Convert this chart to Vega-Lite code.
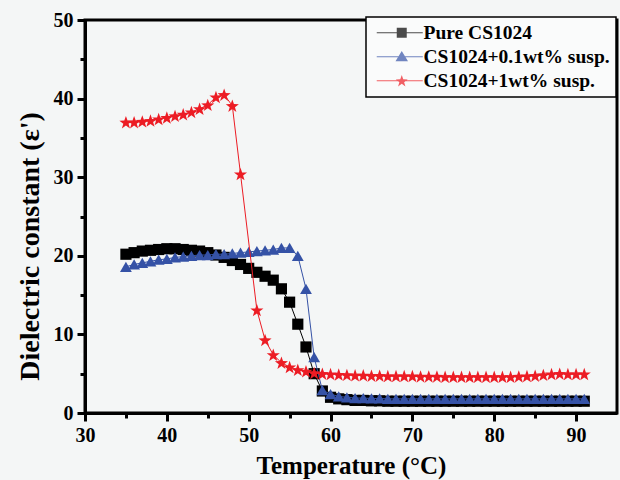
{
  "$schema": "https://vega.github.io/schema/vega-lite/v6.json",
  "width": 532,
  "height": 393,
  "autosize": {"type": "none"},
  "padding": {"left": 85, "top": 20, "right": 3, "bottom": 67},
  "background": "#f4f6f6",
  "config": {
    "view": {"stroke": "black", "strokeWidth": 3, "fill": "#f4f6f6"},
    "axis": {
      "labelFont": "Liberation Serif", "labelFontWeight": "bold", "labelFontSize": 20, "labelColor": "black",
      "titleFont": "Liberation Serif", "titleFontWeight": "bold", "titleFontSize": 25, "titleColor": "black",
      "domainColor": "black", "domainWidth": 3, "tickColor": "black", "tickWidth": 3, "grid": false,
      "labelFlush": false, "labelOverlap": false
    },
    "legend": {
      "title": null, "orient": "none", "legendX": 281, "legendY": -3,
      "labelOffset": 32, "symbolSize": 100, "symbolStrokeWidth": 0,
      "strokeColor": "black", "strokeWidth": 1.5, "fillColor": "#fafbfb",
      "padding": 6, "rowPadding": 3,
      "labelFont": "Liberation Serif", "labelFontWeight": "bold", "labelFontSize": 19.5, "labelColor": "black", "labelLimit": 400
    }
  },
  "data": {"values": [
    {"s": "Pure CS1024", "t": 35, "e": 20.2}, {"s": "Pure CS1024", "t": 36, "e": 20.4}, {"s": "Pure CS1024", "t": 37, "e": 20.6}, {"s": "Pure CS1024", "t": 38, "e": 20.7},
    {"s": "Pure CS1024", "t": 39, "e": 20.8}, {"s": "Pure CS1024", "t": 40, "e": 20.9}, {"s": "Pure CS1024", "t": 41, "e": 20.9}, {"s": "Pure CS1024", "t": 42, "e": 20.8},
    {"s": "Pure CS1024", "t": 43, "e": 20.7}, {"s": "Pure CS1024", "t": 44, "e": 20.6}, {"s": "Pure CS1024", "t": 45, "e": 20.4}, {"s": "Pure CS1024", "t": 46, "e": 20.1},
    {"s": "Pure CS1024", "t": 47, "e": 19.8}, {"s": "Pure CS1024", "t": 48, "e": 19.4}, {"s": "Pure CS1024", "t": 49, "e": 18.9}, {"s": "Pure CS1024", "t": 50, "e": 18.4},
    {"s": "Pure CS1024", "t": 51, "e": 17.9}, {"s": "Pure CS1024", "t": 52, "e": 17.4}, {"s": "Pure CS1024", "t": 53, "e": 16.9}, {"s": "Pure CS1024", "t": 54, "e": 15.8},
    {"s": "Pure CS1024", "t": 55, "e": 14.1}, {"s": "Pure CS1024", "t": 56, "e": 11.3}, {"s": "Pure CS1024", "t": 57, "e": 8.4}, {"s": "Pure CS1024", "t": 58, "e": 5.0},
    {"s": "Pure CS1024", "t": 59, "e": 2.8}, {"s": "Pure CS1024", "t": 60, "e": 2.0}, {"s": "Pure CS1024", "t": 61, "e": 1.8}, {"s": "Pure CS1024", "t": 62, "e": 1.7},
    {"s": "Pure CS1024", "t": 63, "e": 1.6}, {"s": "Pure CS1024", "t": 64, "e": 1.6}, {"s": "Pure CS1024", "t": 65, "e": 1.55}, {"s": "Pure CS1024", "t": 66, "e": 1.55},
    {"s": "Pure CS1024", "t": 67, "e": 1.5}, {"s": "Pure CS1024", "t": 68, "e": 1.5}, {"s": "Pure CS1024", "t": 69, "e": 1.5}, {"s": "Pure CS1024", "t": 70, "e": 1.5},
    {"s": "Pure CS1024", "t": 71, "e": 1.5}, {"s": "Pure CS1024", "t": 72, "e": 1.5}, {"s": "Pure CS1024", "t": 73, "e": 1.5}, {"s": "Pure CS1024", "t": 74, "e": 1.5},
    {"s": "Pure CS1024", "t": 75, "e": 1.5}, {"s": "Pure CS1024", "t": 76, "e": 1.5}, {"s": "Pure CS1024", "t": 77, "e": 1.5}, {"s": "Pure CS1024", "t": 78, "e": 1.5},
    {"s": "Pure CS1024", "t": 79, "e": 1.5}, {"s": "Pure CS1024", "t": 80, "e": 1.5}, {"s": "Pure CS1024", "t": 81, "e": 1.5}, {"s": "Pure CS1024", "t": 82, "e": 1.5},
    {"s": "Pure CS1024", "t": 83, "e": 1.5}, {"s": "Pure CS1024", "t": 84, "e": 1.5}, {"s": "Pure CS1024", "t": 85, "e": 1.5}, {"s": "Pure CS1024", "t": 86, "e": 1.5},
    {"s": "Pure CS1024", "t": 87, "e": 1.5}, {"s": "Pure CS1024", "t": 88, "e": 1.5}, {"s": "Pure CS1024", "t": 89, "e": 1.5}, {"s": "Pure CS1024", "t": 90, "e": 1.5},
    {"s": "Pure CS1024", "t": 91, "e": 1.5},
    {"s": "CS1024+0.1wt% susp.", "t": 35, "e": 18.6}, {"s": "CS1024+0.1wt% susp.", "t": 36, "e": 18.9}, {"s": "CS1024+0.1wt% susp.", "t": 37, "e": 19.1}, {"s": "CS1024+0.1wt% susp.", "t": 38, "e": 19.3},
    {"s": "CS1024+0.1wt% susp.", "t": 39, "e": 19.5}, {"s": "CS1024+0.1wt% susp.", "t": 40, "e": 19.6}, {"s": "CS1024+0.1wt% susp.", "t": 41, "e": 19.8}, {"s": "CS1024+0.1wt% susp.", "t": 42, "e": 19.9},
    {"s": "CS1024+0.1wt% susp.", "t": 43, "e": 20.0}, {"s": "CS1024+0.1wt% susp.", "t": 44, "e": 20.1}, {"s": "CS1024+0.1wt% susp.", "t": 45, "e": 20.1}, {"s": "CS1024+0.1wt% susp.", "t": 46, "e": 20.2},
    {"s": "CS1024+0.1wt% susp.", "t": 47, "e": 20.2}, {"s": "CS1024+0.1wt% susp.", "t": 48, "e": 20.3}, {"s": "CS1024+0.1wt% susp.", "t": 49, "e": 20.4}, {"s": "CS1024+0.1wt% susp.", "t": 50, "e": 20.5},
    {"s": "CS1024+0.1wt% susp.", "t": 51, "e": 20.6}, {"s": "CS1024+0.1wt% susp.", "t": 52, "e": 20.7}, {"s": "CS1024+0.1wt% susp.", "t": 53, "e": 20.8}, {"s": "CS1024+0.1wt% susp.", "t": 54, "e": 21.0},
    {"s": "CS1024+0.1wt% susp.", "t": 55, "e": 21.0}, {"s": "CS1024+0.1wt% susp.", "t": 56, "e": 20.0}, {"s": "CS1024+0.1wt% susp.", "t": 57, "e": 15.8}, {"s": "CS1024+0.1wt% susp.", "t": 58, "e": 7.1},
    {"s": "CS1024+0.1wt% susp.", "t": 59, "e": 2.9}, {"s": "CS1024+0.1wt% susp.", "t": 60, "e": 2.4}, {"s": "CS1024+0.1wt% susp.", "t": 61, "e": 2.1}, {"s": "CS1024+0.1wt% susp.", "t": 62, "e": 2.0},
    {"s": "CS1024+0.1wt% susp.", "t": 63, "e": 1.9}, {"s": "CS1024+0.1wt% susp.", "t": 64, "e": 1.9}, {"s": "CS1024+0.1wt% susp.", "t": 65, "e": 1.85}, {"s": "CS1024+0.1wt% susp.", "t": 66, "e": 1.85},
    {"s": "CS1024+0.1wt% susp.", "t": 67, "e": 1.8}, {"s": "CS1024+0.1wt% susp.", "t": 68, "e": 1.8}, {"s": "CS1024+0.1wt% susp.", "t": 69, "e": 1.8}, {"s": "CS1024+0.1wt% susp.", "t": 70, "e": 1.8},
    {"s": "CS1024+0.1wt% susp.", "t": 71, "e": 1.8}, {"s": "CS1024+0.1wt% susp.", "t": 72, "e": 1.8}, {"s": "CS1024+0.1wt% susp.", "t": 73, "e": 1.8}, {"s": "CS1024+0.1wt% susp.", "t": 74, "e": 1.8},
    {"s": "CS1024+0.1wt% susp.", "t": 75, "e": 1.8}, {"s": "CS1024+0.1wt% susp.", "t": 76, "e": 1.8}, {"s": "CS1024+0.1wt% susp.", "t": 77, "e": 1.8}, {"s": "CS1024+0.1wt% susp.", "t": 78, "e": 1.8},
    {"s": "CS1024+0.1wt% susp.", "t": 79, "e": 1.8}, {"s": "CS1024+0.1wt% susp.", "t": 80, "e": 1.8}, {"s": "CS1024+0.1wt% susp.", "t": 81, "e": 1.8}, {"s": "CS1024+0.1wt% susp.", "t": 82, "e": 1.8},
    {"s": "CS1024+0.1wt% susp.", "t": 83, "e": 1.8}, {"s": "CS1024+0.1wt% susp.", "t": 84, "e": 1.8}, {"s": "CS1024+0.1wt% susp.", "t": 85, "e": 1.8}, {"s": "CS1024+0.1wt% susp.", "t": 86, "e": 1.8},
    {"s": "CS1024+0.1wt% susp.", "t": 87, "e": 1.8}, {"s": "CS1024+0.1wt% susp.", "t": 88, "e": 1.8}, {"s": "CS1024+0.1wt% susp.", "t": 89, "e": 1.8}, {"s": "CS1024+0.1wt% susp.", "t": 90, "e": 1.8},
    {"s": "CS1024+0.1wt% susp.", "t": 91, "e": 1.8},
    {"s": "CS1024+1wt% susp.", "t": 35, "e": 37.0}, {"s": "CS1024+1wt% susp.", "t": 36, "e": 37.0}, {"s": "CS1024+1wt% susp.", "t": 37, "e": 37.1}, {"s": "CS1024+1wt% susp.", "t": 38, "e": 37.2},
    {"s": "CS1024+1wt% susp.", "t": 39, "e": 37.4}, {"s": "CS1024+1wt% susp.", "t": 40, "e": 37.6}, {"s": "CS1024+1wt% susp.", "t": 41, "e": 37.8}, {"s": "CS1024+1wt% susp.", "t": 42, "e": 38.0},
    {"s": "CS1024+1wt% susp.", "t": 43, "e": 38.3}, {"s": "CS1024+1wt% susp.", "t": 44, "e": 38.7}, {"s": "CS1024+1wt% susp.", "t": 45, "e": 39.2}, {"s": "CS1024+1wt% susp.", "t": 46, "e": 40.2},
    {"s": "CS1024+1wt% susp.", "t": 47, "e": 40.5}, {"s": "CS1024+1wt% susp.", "t": 48, "e": 39.1}, {"s": "CS1024+1wt% susp.", "t": 49, "e": 30.4}, {"s": "CS1024+1wt% susp.", "t": 51, "e": 13.1},
    {"s": "CS1024+1wt% susp.", "t": 52, "e": 9.3}, {"s": "CS1024+1wt% susp.", "t": 53, "e": 7.4}, {"s": "CS1024+1wt% susp.", "t": 54, "e": 6.4}, {"s": "CS1024+1wt% susp.", "t": 55, "e": 5.85},
    {"s": "CS1024+1wt% susp.", "t": 56, "e": 5.5}, {"s": "CS1024+1wt% susp.", "t": 57, "e": 5.3}, {"s": "CS1024+1wt% susp.", "t": 58, "e": 5.1}, {"s": "CS1024+1wt% susp.", "t": 59, "e": 5.0},
    {"s": "CS1024+1wt% susp.", "t": 60, "e": 4.95}, {"s": "CS1024+1wt% susp.", "t": 61, "e": 4.9}, {"s": "CS1024+1wt% susp.", "t": 62, "e": 4.85}, {"s": "CS1024+1wt% susp.", "t": 63, "e": 4.8},
    {"s": "CS1024+1wt% susp.", "t": 64, "e": 4.8}, {"s": "CS1024+1wt% susp.", "t": 65, "e": 4.75}, {"s": "CS1024+1wt% susp.", "t": 66, "e": 4.75}, {"s": "CS1024+1wt% susp.", "t": 67, "e": 4.7},
    {"s": "CS1024+1wt% susp.", "t": 68, "e": 4.7}, {"s": "CS1024+1wt% susp.", "t": 69, "e": 4.7}, {"s": "CS1024+1wt% susp.", "t": 70, "e": 4.7}, {"s": "CS1024+1wt% susp.", "t": 71, "e": 4.65},
    {"s": "CS1024+1wt% susp.", "t": 72, "e": 4.65}, {"s": "CS1024+1wt% susp.", "t": 73, "e": 4.65}, {"s": "CS1024+1wt% susp.", "t": 74, "e": 4.6}, {"s": "CS1024+1wt% susp.", "t": 75, "e": 4.6},
    {"s": "CS1024+1wt% susp.", "t": 76, "e": 4.6}, {"s": "CS1024+1wt% susp.", "t": 77, "e": 4.6}, {"s": "CS1024+1wt% susp.", "t": 78, "e": 4.6}, {"s": "CS1024+1wt% susp.", "t": 79, "e": 4.6},
    {"s": "CS1024+1wt% susp.", "t": 80, "e": 4.6}, {"s": "CS1024+1wt% susp.", "t": 81, "e": 4.6}, {"s": "CS1024+1wt% susp.", "t": 82, "e": 4.6}, {"s": "CS1024+1wt% susp.", "t": 83, "e": 4.65},
    {"s": "CS1024+1wt% susp.", "t": 84, "e": 4.7}, {"s": "CS1024+1wt% susp.", "t": 85, "e": 4.75}, {"s": "CS1024+1wt% susp.", "t": 86, "e": 4.85}, {"s": "CS1024+1wt% susp.", "t": 87, "e": 4.95},
    {"s": "CS1024+1wt% susp.", "t": 88, "e": 5.0}, {"s": "CS1024+1wt% susp.", "t": 89, "e": 4.95}, {"s": "CS1024+1wt% susp.", "t": 90, "e": 4.95}, {"s": "CS1024+1wt% susp.", "t": 91, "e": 4.95}
  ]},
  "encoding": {
    "x": {
      "field": "t", "type": "quantitative",
      "scale": {"domain": [30, 95], "nice": false, "zero": false},
      "axis": {
        "title": "Temperature (°C)",
        "values": [30, 35, 40, 45, 50, 55, 60, 65, 70, 75, 80, 85, 90],
        "labelExpr": "datum.value % 10 === 0 ? datum.label : ''",
        "tickSize": {"condition": {"test": "datum.value % 10 === 0", "value": 8}, "value": 5},
        "labelPadding": 4, "titlePadding": 8
      }
    },
    "y": {
      "field": "e", "type": "quantitative",
      "scale": {"domain": [0, 50], "nice": false},
      "axis": {
        "title": "Dielectric constant (ε')",
        "titleFontSize": 28,
        "titleY": 226,
        "values": [0, 5, 10, 15, 20, 25, 30, 35, 40, 45, 50],
        "labelExpr": "datum.value % 10 === 0 ? datum.label : ''",
        "tickSize": {"condition": {"test": "datum.value % 10 === 0", "value": 8}, "value": 5},
        "labelPadding": 4, "titlePadding": 9
      }
    }
  },
  "layer": [
    {
      "transform": [{"filter": "datum.s === 'Pure CS1024'"}],
      "mark": {"type": "line", "color": "black", "strokeWidth": 1,
               "point": {"filled": true, "shape": "square", "size": 125, "color": "black", "opacity": 1}}
    },
    {
      "transform": [{"filter": "datum.s === 'CS1024+0.1wt% susp.'"}],
      "mark": {"type": "line", "color": "#3552a6", "strokeWidth": 1,
               "point": {"filled": true, "shape": "triangle-up", "size": 140, "color": "#3552a6", "opacity": 1}}
    },
    {
      "transform": [{"filter": "datum.s === 'CS1024+1wt% susp.'"}],
      "mark": {"type": "line", "color": "#ec1c24", "strokeWidth": 1,
               "point": {"filled": true, "shape": "M0,-0.905L0.235,-0.229L0.951,-0.214L0.38,0.219L0.588,0.904L0,0.495L-0.588,0.904L-0.38,0.219L-0.951,-0.214L-0.235,-0.229Z", "size": 190, "color": "#ec1c24", "opacity": 1}}
    },
    {
      "mark": {"type": "point", "filled": true, "size": 0},
      "encoding": {
        "color": {
          "field": "s", "type": "nominal",
          "scale": {"domain": ["Pure CS1024", "CS1024+0.1wt% susp.", "CS1024+1wt% susp."], "range": ["black", "#3552a6", "#ec1c24"]}
        },
        "shape": {
          "field": "s", "type": "nominal",
          "scale": {"domain": ["Pure CS1024", "CS1024+0.1wt% susp.", "CS1024+1wt% susp."],
                    "range": [
                      "M-1,-0.1H8.2V0.1H-1Z M3,-1H5V1H3Z",
                      "M-1,-0.1H8.2V0.1H-1Z M4,-1.15L5.25,0.9L2.75,0.9Z",
                      "M-1,-0.1H8.2V0.1H-1Z M4,-1.13L4.294,-0.285L5.189,-0.266L4.475,0.275L4.735,1.131L4,0.62L3.265,1.131L3.525,0.275L2.811,-0.266L3.706,-0.285Z"
                    ]}
        }
      }
    }
  ]
}
